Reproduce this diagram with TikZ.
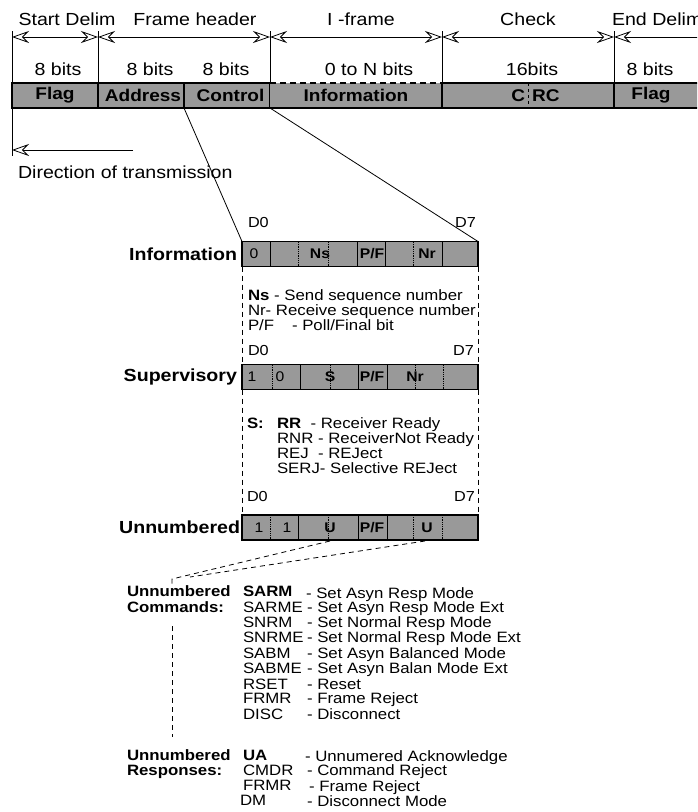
\documentclass[tikz,border=0pt]{standalone}
\usepackage{fontspec}
\setmainfont{Liberation Sans}[FakeStretch=1.12]
\usetikzlibrary{arrows.meta}
\begin{document}
\begin{tikzpicture}[x=1pt,y=-1pt,
  every node/.style={inner sep=0pt, outer sep=0pt},
  thinln/.style={line width=0.8pt},
  boxln/.style={line width=1.5pt},
  toplbl/.style={font=\fontsize{17.5}{18}\selectfont, anchor=base},
  topfld/.style={draw, line width=1.5pt, fill=black!40, minimum height=25pt, font=\fontsize{17}{17}\selectfont\bfseries},
  bitbox/.style={draw, line width=1.5pt, fill=black!40, minimum width=236pt, minimum height=25pt},
  bitlbl/.style={font=\fontsize{14}{14}\selectfont\bfseries},
  bitnum/.style={font=\fontsize{14}{14}\selectfont},
  rowlbl/.style={font=\fontsize{17.5}{18}\selectfont\bfseries, anchor=east},
  dlbl/.style={font=\fontsize{14.5}{14.5}\selectfont},
  lst/.style={font=\fontsize{15}{15}\selectfont, anchor=base west},
  lstb/.style={font=\fontsize{15}{15}\selectfont\bfseries, anchor=base west},
  opentip/.tip={Stealth[open,length=17pt,width=12pt,inset=6pt]},
  dimarrow/.style={thinln, opentip-opentip},
  dashln/.style={thinln, dash pattern=on 5pt off 4pt},
]
\useasboundingbox (0,0) rectangle (697,812);
\clip (0,0) rectangle (697,812);

% ---------- top labels ----------
\node[toplbl] (lStart) at (67,25) {Start Delim};
\node[toplbl] (lFrame) at (195,25) {Frame header};
\node[toplbl] (lIframe) at (361,25) {I -frame};
\node[toplbl] (lCheck) at (528,25) {Check};
\node[toplbl, anchor=base west] (lEnd) at (612,25) {End Delim};

% ---------- tick coordinates and dimension arrows ----------
\coordinate (t0) at (12,31);
\coordinate (t1) at (98,31);
\coordinate (t2) at (270,31);
\coordinate (t3) at (442,31);
\coordinate (t4) at (614,31);
\coordinate (a0) at (12,37);
\coordinate (a1) at (98,37);
\coordinate (a2) at (270,37);
\coordinate (a3) at (442,37);
\coordinate (a4) at (614,37);
\coordinate (a5) at (722,37);
\draw[dimarrow] (a0) -- (a1);
\draw[dimarrow] (a1) -- (a2);
\draw[dimarrow] (a2) -- (a3);
\draw[dimarrow] (a3) -- (a4);
\draw[dimarrow] (a4) -- (a5);

% ---------- size labels ----------
\node[toplbl] (s1) at (58,75) {8 bits};
\node[toplbl] (s2) at (150,75) {8 bits};
\node[toplbl] (s3) at (226,75) {8 bits};
\node[toplbl] (s4) at (369,75) {0 to N bits};
\node[toplbl] (s5) at (532,75) {16bits};
\node[toplbl] (s6) at (650,75) {8 bits};

% ---------- frame bar ----------
\node[topfld, minimum width=86pt] (flagA) at (55,95.5) {Flag};
\node[topfld, minimum width=86pt] (addr) at (141,95.5) {\hspace{4pt}Address};
\node[topfld, minimum width=86pt] (ctrl) at (227,95.5) {\hspace{7pt}Control};
\node[topfld, draw=none, minimum width=172pt] (info) at (356,95.5) {Information};
\node[topfld, minimum width=172pt] (chk) at (528,95.5) {};
\node[topfld, minimum width=92pt] (flagB) at (660,95.5) {};
\node[font=\fontsize{17}{17}\selectfont\bfseries] (flagBt) at (651,95.5) {Flag};
\node[font=\fontsize{17}{17}\selectfont\bfseries, anchor=east] (chkC) at (525,95.5) {C};
\node[font=\fontsize{17}{17}\selectfont\bfseries, anchor=west] (chkRC) at (532,95.5) {RC};
\draw[boxln, dash pattern=on 6pt off 4pt] (info.north west) -- (info.north east);
\draw[boxln] (info.south west) -- (info.south east);
\draw[thinln, dashed] (chk.north) -- (chk.south);

% ticks
\draw[thinln] (t0) -- (flagA.north west);
\draw[thinln] (t1) -- (addr.north west);
\draw[thinln] (t2) -- (info.north west);
\draw[thinln] (t3) -- (chk.north west);
\draw[thinln] (t4) -- (flagB.north west);

% direction of transmission
\coordinate (dlow) at (12,156);
\coordinate (dA) at (133,150);
\coordinate (dB) at (12,150);
\draw[thinln] (flagA.south west) -- (dlow);
\draw[thinln, -opentip] (dA) -- (dB);
\node[font=\fontsize{17.5}{18}\selectfont, anchor=base west] (dirtxt) at (18,178) {Direction of transmission};

% ---------- bit boxes ----------
\node[bitbox] (ibox) at (360,254) {};
\node[bitbox] (sbox) at (360,377) {};
\node[bitbox] (ubox) at (360,527.5) {};

% information dividers
\foreach \x in {270,357,385,442} \draw[thinln] (\x,242) -- (\x,266);
\foreach \x in {298,328,413} \draw[thinln, densely dotted] (\x,242) -- (\x,266);
% supervisory dividers
\foreach \x in {300,358,387} \draw[thinln] (\x,365) -- (\x,389.5);
\foreach \x in {272,330,415,443} \draw[thinln, densely dotted] (\x,365) -- (\x,389.5);
% unnumbered dividers
\foreach \x in {298,358,387} \draw[thinln] (\x,515) -- (\x,540);
\foreach \x in {270,328,413,442} \draw[thinln, densely dotted] (\x,515) -- (\x,540);

% field labels
\node[bitnum] (i0) at (254,254) {0};
\node[bitlbl] (iNs) at (320,254) {Ns};
\node[bitlbl] (iPF) at (372,254) {P/F};
\node[bitlbl] (iNr) at (427,254) {Nr};
\node[bitnum] (s1b) at (252,377) {1};
\node[bitnum] (s0b) at (280,377) {0};
\node[bitlbl] (sS) at (330,377) {S};
\node[bitlbl] (sPF) at (372,377) {P/F};
\node[bitlbl] (sNr) at (415,377) {Nr};
\node[bitnum] (u1a) at (259,527.5) {1};
\node[bitnum] (u1b) at (287,527.5) {1};
\node[bitlbl] (uU1) at (330,527.5) {U};
\node[bitlbl] (uPF) at (372,527.5) {P/F};
\node[bitlbl] (uU2) at (427,527.5) {U};

% row labels
\node[rowlbl] (rInfo) at (237,254) {Information};
\node[rowlbl] (rSup) at (237,377) {Supervisory};
\node[rowlbl] (rUnn) at (240,527.5) {Unnumbered};

% D0 / D7
\node[dlbl, anchor=base west] (d0a) at (248,227) {D0};
\node[dlbl, anchor=base east] (d7a) at (476,227) {D7};
\node[dlbl, anchor=base west] (d0b) at (248,355) {D0};
\node[dlbl, anchor=base east] (d7b) at (474,355) {D7};
\node[dlbl, anchor=base west] (d0c) at (247,501) {D0};
\node[dlbl, anchor=base east] (d7c) at (475,501) {D7};

% connectors from frame bar to information box
\draw[thinln] (addr.south east) -- (ibox.north west);
\draw[thinln] (ctrl.south east) -- (ibox.north east);

% dashed side lines
\draw[dashln] (ibox.south west) -- (sbox.north west);
\draw[dashln] (ibox.south east) -- (sbox.north east);
\draw[dashln] (sbox.south west) -- (ubox.north west);
\draw[dashln] (sbox.south east) -- (ubox.north east);

% information legend
\node[lst] (nsl) at (248,300) {\textbf{Ns} - Send sequence number};
\node[lst] (nrl) at (248,315) {Nr- Receive sequence number};
\node[lst] (pfl) at (248,330) {P/F};
\node[lst] (pfd) at (292,330) {- Poll/Final bit};

% supervisory legend
\node[lstb] (sco) at (247,428) {S:};
\node[lst] (rr) at (277,428) {\textbf{RR}\ \ - Receiver Ready};
\node[lst] (rnr) at (277,443) {RNR - ReceiverNot Ready};
\node[lst] (rej) at (277,458) {REJ\ \ - REJect};
\node[lst] (serj) at (277,473) {SERJ- Selective REJect};

% unnumbered dashed links
\coordinate (uA) at (330,541);
\coordinate (uB) at (425,541);
\coordinate (uc) at (172,579);
\coordinate (ucs) at (172,586);
\coordinate (ud) at (190,577);
\coordinate (vc1) at (172,626);
\coordinate (vc2) at (172,737);
\draw[dashln] (uA) -- (uc) -- (ucs);
\draw[dashln] (uB) -- (ud);
\draw[dashln] (vc1) -- (vc2);

% unnumbered commands
\node[lstb] (uc1) at (127,596) {Unnumbered};
\node[lstb] (uc2) at (127,612) {Commands:};
\node[lstb] (cm1) at (243,596) {SARM};
\node[lst] (cd1) at (306,598) {- Set Asyn Resp Mode};
\foreach \y/\c/\d [count=\i from 2] in {612/SARME/- Set Asyn Resp Mode Ext,
  627/SNRM/- Set Normal Resp Mode,
  642/SNRME/- Set Normal Resp Mode Ext,
  658/SABM/- Set Asyn Balanced Mode,
  673/SABME/- Set Asyn Balan Mode Ext,
  689/RSET/- Reset,
  703/FRMR/- Frame Reject,
  719/DISC/- Disconnect}{
  \node[lst] (cm\i) at (243,\y) {\c};
  \node[lst] (cd\i) at (307,\y) {\d};
}

% unnumbered responses
\node[lstb] (ur1) at (127,760) {Unnumbered};
\node[lstb] (ur2) at (127,775) {Responses:};
\node[lstb] (rp1) at (243,760) {UA};
\node[lst] (rd1) at (305,761) {- Unnumered Acknowledge};
\node[lst] (rp2) at (243,775) {CMDR};
\node[lst] (rd2) at (307,775) {- Command Reject};
\node[lst] (rp3) at (243,790) {FRMR};
\node[lst] (rd3) at (309,791) {- Frame Reject};
\node[lst] (rp4) at (240,805) {DM};
\node[lst] (rd4) at (307,806) {- Disconnect Mode};
\end{tikzpicture}
\end{document}
